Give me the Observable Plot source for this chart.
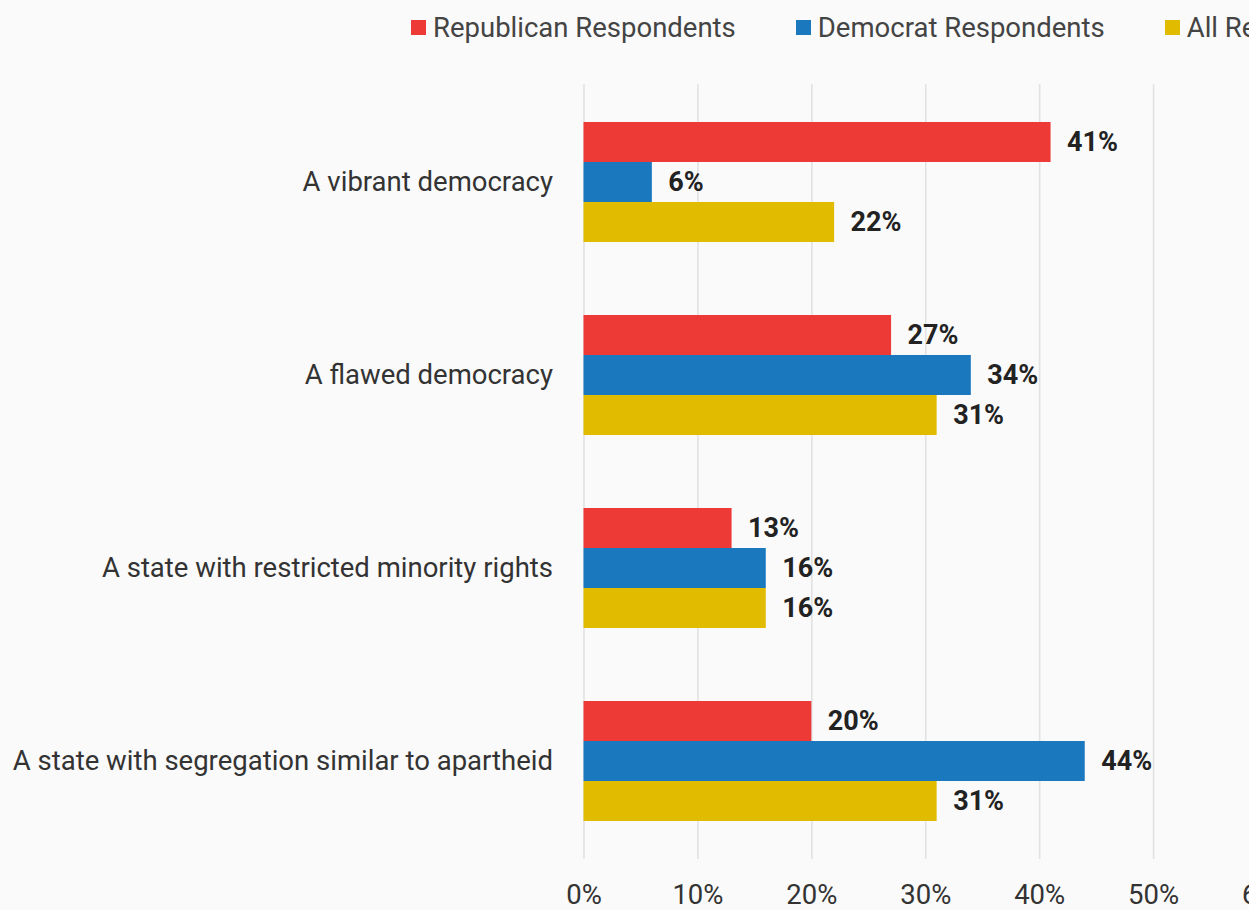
<!DOCTYPE html>
<html>
<head>
<meta charset="utf-8">
<script src="https://cdn.jsdelivr.net/npm/d3@7"></script>
<script src="https://cdn.jsdelivr.net/npm/@observablehq/plot@0.6"></script>
<style>
  html, body { margin: 0; padding: 0; background: #fafafa; width: 1249px; height: 910px; overflow: hidden; font-family: Roboto, "Noto Sans", sans-serif; }
  #legend { height: 52px; display: flex; align-items: center; white-space: nowrap; padding-left: 411px; padding-top: 2px; box-sizing: border-box; font-size: 27.5px; color: #444; }
  #legend .item { display: flex; align-items: center; margin-right: 60px; }
  #legend .sw { width: 15px; height: 15px; margin-right: 7px; flex: none; }
  #chart svg { display: block; max-width: none !important; }
</style>
</head>
<body>
<div id="legend"></div>
<div id="chart"></div>
<script>
const categories = [
  "A vibrant democracy",
  "A flawed democracy",
  "A state with restricted minority rights",
  "A state with segregation similar to apartheid"
];
const seriesNames = ["Republican Respondents", "Democrat Respondents", "All Respondents"];
const seriesColors = ["#ee3a36", "#1a78be", "#e1bb00"];
const republican = [41, 27, 13, 20];
const democrat = [6, 34, 16, 44];
const allRespondents = [22, 31, 16, 31];
const xTicks = [0, 10, 20, 30, 40, 50, 60];

const seriesValues = [republican, democrat, allRespondents];

// legend
const legend = document.getElementById("legend");
seriesNames.forEach((name, i) => {
  const item = document.createElement("div");
  item.className = "item";
  const sw = document.createElement("span");
  sw.className = "sw";
  sw.style.background = seriesColors[i];
  const label = document.createElement("span");
  label.textContent = name;
  item.appendChild(sw);
  item.appendChild(label);
  legend.appendChild(item);
});

const rows = [];
seriesNames.forEach((s, si) => {
  categories.forEach((c, ci) => {
    rows.push({ category: c, series: s, si, value: seriesValues[si][ci] });
  });
});

const bandH = 120;
const barH = bandH / 3;

const marks = [
  Plot.ruleX(xTicks, { stroke: "#e2e2e2", strokeWidth: 1.6 })
];
seriesNames.forEach((s, si) => {
  const data = rows.filter(r => r.si === si);
  marks.push(Plot.barX(data, {
    x: "value", y: "category", fill: seriesColors[si],
    insetTop: si * barH, insetBottom: (2 - si) * barH
  }));
  marks.push(Plot.text(data, {
    x: "value", y: "category", text: d => d.value + "%",
    dy: (si - 1) * barH, dx: 16, textAnchor: "start",
    fontWeight: "bold", fontSize: 27, fill: "#222"
  }));
});

const chart = Plot.plot({
  width: 1307,
  height: 880,
  marginLeft: 583.5,
  marginRight: 40,
  marginTop: 32,
  marginBottom: 73,
  style: { background: "transparent", fontFamily: "Roboto, sans-serif", fontSize: "27.5px", color: "#333", overflow: "visible" },
  x: { domain: [0, 60], ticks: xTicks, tickFormat: d => d + "%", tickSize: 0, tickPadding: 25, label: null, fontSize: 25 },
  y: { domain: categories, paddingInner: 0.38, paddingOuter: 0.189, tickSize: 0, tickPadding: 31, label: null },
  marks
});
chart.style.maxWidth = "none";
document.getElementById("chart").appendChild(chart);
</script>
</body>
</html>
